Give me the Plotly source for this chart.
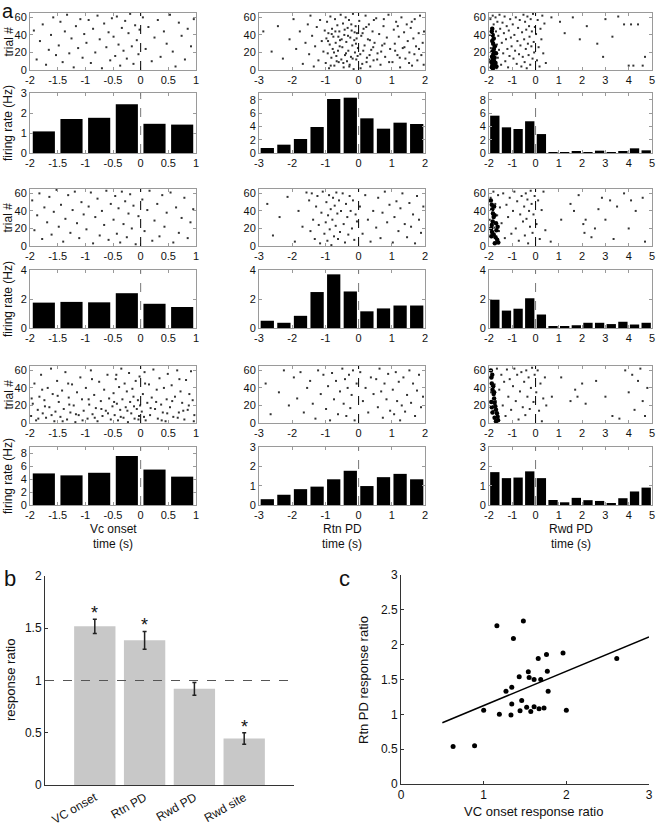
import plotly.graph_objects as go

W, H = 658, 828
FONT = "Liberation Sans, Arial, sans-serif"

# ---------------- panel a : histogram data ----------------
T_VC = [-1.75, -1.25, -0.75, -0.25, 0.25, 0.75]
T_RTN = [-2.75, -2.25, -1.75, -1.25, -0.75, -0.25, 0.25, 0.75, 1.25, 1.75]
T_RWD = [-1.75, -1.25, -0.75, -0.25, 0.25, 0.75, 1.25, 1.75, 2.25, 2.75, 3.25, 3.75, 4.25, 4.75]

RATE_VC_1 = [1.08, 1.70, 1.76, 2.44, 1.46, 1.42]
RATE_RTN_1 = [0.75, 1.25, 2.1, 3.9, 8.1, 8.3, 5.2, 3.65, 4.55, 4.35]
RATE_RWD_1 = [5.6, 3.85, 3.6, 4.76, 2.84, 0.1, 0.15, 0.2, 0.1, 0.35, 0.15, 0.25, 0.7, 0.4]

RATE_VC_2 = [1.75, 1.8, 1.77, 2.4, 1.67, 1.45]
RATE_RTN_2 = [0.5, 0.36, 0.84, 2.48, 3.7, 2.52, 1.15, 1.35, 1.55, 1.55]
RATE_RWD_2 = [1.95, 1.2, 1.33, 2.05, 0.93, 0.07, 0.07, 0.19, 0.36, 0.36, 0.27, 0.43, 0.24, 0.36]

RATE_VC_3 = [4.9, 4.6, 5.0, 7.6, 5.5, 4.4]
RATE_RTN_3 = [0.3, 0.53, 0.82, 0.95, 1.33, 1.77, 0.98, 1.44, 1.61, 1.33]
RATE_RWD_3 = [1.7, 1.39, 1.42, 1.74, 1.39, 0.26, 0.14, 0.37, 0.25, 0.21, 0.07, 0.35, 0.7, 0.9]

# ---------------- panel a : raster data (time in 1/100 s, trial #) ----------------
R_VC_1 = [(-193,45),(-188,12),(-182,33),(-177,52),(-171,6),(-166,23),(-162,40),(-158,60),(-153,17),
 (-148,28),(-145,55),(-141,9),(-137,44),(-133,63),(-129,19),(-125,36),(-121,3),(-117,50),(-113,25),(-109,58),(-105,14),(-102,41),
 (-98,31),(-94,57),(-90,8),(-86,47),(-82,20),(-78,62),(-74,35),(-70,2),(-66,53),(-62,26),(-58,43),(-55,11),(-52,59),
 (-49,38),(-46,16),(-43,61),(-40,29),(-37,5),(-34,48),(-31,22),(-28,56),(-25,13),(-22,42),(-19,64),(-16,27),(-13,7),(-10,51),(-7,34),(-4,18),(-2,46),
 (4,60),(9,24),(14,49),(20,10),(25,37),(31,57),(36,15),(42,44),(47,30),
 (53,63),(58,21),(63,4),(69,54),(74,39),(80,12),(85,47),(91,27),(96,58)]

R_RTN_1 = [(-287,44),(-262,21),(-243,50),(-228,13),(-208,35),
 (-196,58),(-188,24),(-177,44),(-168,7),(-160,31),(-153,52),
 (-149,18),(-145,62),(-140,39),(-135,4),(-131,27),(-126,49),(-121,11),(-116,57),(-111,33),(-106,21),(-102,45),
 (-99,8),(-97,36),(-95,55),(-93,19),(-91,42),(-89,2),(-87,29),(-85,61),(-82,14),(-80,47),(-78,24),(-76,38),(-73,5),(-71,58),(-69,31),(-67,16),(-64,51),(-62,22),(-60,9),(-58,44),(-56,34),(-54,63),(-52,12),
 (-49,26),(-47,53),(-45,3),(-43,40),(-41,17),(-39,60),(-37,32),(-35,10),(-33,48),(-31,22),(-29,57),(-27,6),(-25,37),(-23,15),(-21,45),(-19,28),(-17,64),(-15,1),(-13,34),(-11,20),(-9,50),(-7,12),(-5,42),(-2,25),
 (2,56),(5,18),(8,39),(11,7),(15,47),(18,28),(21,62),(25,14),(28,35),(31,52),(35,4),(38,23),(42,44),(45,11),(48,31),
 (53,59),(57,19),(62,41),(66,6),(71,28),(75,50),(80,15),(85,37),(90,63),(95,24),
 (102,9),(106,46),(109,30),(113,55),(117,17),(121,38),(125,3),(129,60),(133,25),(137,43),(141,13),(145,52),(148,33),
 (153,20),(157,48),(161,5),(165,36),(169,58),(173,27),(177,11),(181,42),(185,62),(189,17),(193,31),(197,44),
 (-84,5),(-74,20),(-66,10),(-57,27),(-46,8),(-38,19),(-28,4),(-18,13),(-8,30),(-3,16),(6,2),(14,22),(24,9),(33,17),(44,26),
 (-92,33),(-81,41),(-70,44),(-61,38),(-51,35),(-42,46),(-32,39),(-22,52),(-12,43),(-6,36),(12,42),(23,49),(34,34),(46,57),
 (56,12),(68,21),(78,30),(92,9),(110,22),(124,14),(138,26),(152,8),(168,18),(182,24),(196,6),(76,58),(118,50),(160,55)]

R_RWD_1 = [(-198,12),(-196,40),(-194,58),(-192,25),(-190,5),(-188,48),(-186,33),(-184,62),(-182,17),(-180,52),(-178,8),(-176,36),(-174,21),(-172,60),(-170,44),(-168,2),(-166,29),(-164,55),(-162,14),(-160,39),(-157,23),(-155,63),(-152,47),
 (-148,6),(-145,31),(-142,54),(-139,19),(-136,42),(-133,61),(-130,10),(-127,35),(-124,50),(-121,24),(-118,3),(-115,45),(-112,16),(-109,58),(-106,37),(-103,27),
 (-98,52),(-95,13),(-91,40),(-88,22),(-85,60),(-81,7),(-78,33),(-75,48),(-71,18),(-68,57),(-65,28),(-61,4),(-58,43),(-55,15),(-52,63),
 (-49,35),(-47,9),(-45,55),(-42,24),(-40,46),(-38,2),(-35,61),(-33,30),(-30,17),(-28,50),(-26,38),(-23,6),(-21,58),(-18,27),(-16,44),(-13,13),(-11,64),(-8,32),(-6,20),(-3,49),
 (2,41),(6,11),(9,57),(13,26),(17,4),(21,47),(25,35),(29,62),(33,19),(38,53),(44,8),
 (68,60),(105,55),(125,42),(160,60),(190,35),(220,50),(265,30),(290,15),(300,58),(330,38),(355,61),(380,52),(400,5),(410,52),(420,5),(440,52),(460,5),(470,15)]
B_RWD_1 = [(-188,3),(-185,6),(-190,9),(-183,12),(-187,15),(-181,18),(-185,21),(-179,24),(-175,27),(-182,30),(-186,33),
 (-180,36),(-184,40),(-188,44),(-186,47),(-183,2),(-178,5),(-172,8),(-168,4),(-176,14),(-170,19),(-178,10)]

R_VC_2 = [(-196,52),(-192,18),(-187,35),(-183,60),(-178,8),(-174,44),(-169,27),(-165,56),(-161,13),(-157,39),(-152,64),
 (-148,22),(-144,47),(-140,5),(-136,31),(-131,58),(-127,15),(-123,41),(-119,62),(-115,26),(-111,9),(-107,50),(-103,36),
 (-98,19),(-94,45),(-90,61),(-86,3),(-82,33),(-78,54),(-74,12),(-70,40),(-66,24),(-62,63),(-58,7),(-54,48),
 (-49,30),(-46,57),(-43,14),(-40,43),(-37,4),(-34,62),(-31,25),(-28,51),(-25,10),(-22,37),(-19,59),(-16,20),(-13,46),(-9,2),(-4,34),
 (3,53),(7,17),(12,41),(16,63),(21,6),(25,29),(30,48),(34,11),(39,58),(43,22),(47,38),
 (54,61),(59,4),(64,44),(69,15),(74,32),(79,55),(85,9),(90,27),(95,42)]

R_RTN_2 = [(-275,48),(-258,12),(-238,33),(-214,56),(-192,5),(-181,40),(-169,22),(-157,61),
 (-149,52),(-145,17),(-141,60),(-137,30),(-132,8),(-128,45),(-124,57),(-120,24),(-116,3),(-112,38),(-108,62),(-103,14),
 (-99,27),(-97,50),(-94,6),(-92,35),(-89,58),(-87,19),(-84,42),(-82,1),(-79,30),(-77,55),(-74,11),(-72,46),(-69,23),(-67,61),(-64,37),(-62,8),(-59,52),(-56,16),(-53,40),
 (-48,60),(-45,25),(-41,4),(-38,48),(-34,33),(-31,13),(-27,57),(-24,40),(-20,20),(-17,52),(-13,7),(-9,36),(-5,28),
 (4,45),(12,14),(20,58),(28,30),(36,5),(44,40),
 (53,21),(59,55),(66,9),(72,38),(79,62),(86,27),(93,47),
 (103,4),(108,33),(114,51),(120,17),(126,43),(132,60),(139,25),(146,10),
 (153,49),(158,22),(164,36),(170,3),(176,57),(182,30),(188,15),(195,45)]

R_RWD_2 = [(-197,30),(-193,55),(-189,10),(-185,42),(-181,62),(-177,21),(-173,48),(-169,4),(-165,35),(-161,58),(-157,17),(-153,44),
 (-146,26),(-139,60),(-132,9),(-125,47),(-118,33),(-111,55),(-104,14),
 (-97,40),(-91,62),(-85,20),(-79,51),(-72,6),(-66,36),(-60,57),(-54,28),
 (-49,45),(-46,12),(-42,60),(-39,31),(-35,53),(-32,3),(-28,40),(-24,22),(-21,63),(-17,48),(-13,15),(-9,36),(-4,57),
 (4,25),(11,52),(18,8),(26,41),(34,62),(42,18),
 (65,5),(110,30),(150,48),(165,40),(185,58),(205,25),(210,15),(215,30),(240,10),(255,20),(270,42),(285,55),(300,30),(320,52),(335,8),(350,45),(380,60),(400,20),(410,52),(430,40),(460,55),(470,5)]
B_RWD_2 = [(-192,52),(-188,47),(-186,42),(-183,37),(-180,33),(-184,28),(-188,24),(-191,20),(-187,16),(-180,13),(-172,10),
 (-165,7),(-160,4),(-175,3),(-168,18),(-163,22),(-170,26),(-178,45),(-176,35),(-190,11)]

R_VC_3 = [(-198,8),(-195,22),(-192,45),(-189,3),(-186,15),(-183,30),(-180,55),(-177,11),(-174,26),(-171,6),(-168,40),(-165,18),(-162,62),(-159,33),(-156,2),(-154,13),(-151,48),
 (-148,24),(-145,7),(-142,37),(-139,16),(-136,58),(-133,4),(-130,29),(-127,12),(-124,44),(-121,20),(-118,1),(-115,35),(-112,9),(-109,52),(-106,27),(-103,14),
 (-99,40),(-96,5),(-93,21),(-90,60),(-87,10),(-84,32),(-81,17),(-78,2),(-75,47),(-72,25),(-69,8),(-66,38),(-63,14),(-60,55),(-57,28),(-54,4),(-51,19),
 (-49,34),(-47,9),(-45,50),(-43,22),(-41,3),(-39,41),(-37,15),(-35,62),(-33,27),(-31,6),(-29,45),(-27,18),(-25,36),(-23,1),(-21,57),(-19,24),(-17,11),(-15,39),(-13,30),(-11,5),(-9,48),(-7,16),(-5,26),(-3,8),(-1,20),(-2,53),
 (2,13),(4,33),(7,58),(9,3),(12,23),(15,44),(17,9),(20,29),(23,61),(26,16),(29,38),(31,5),(34,51),(37,21),(40,12),(42,40),(45,2),(47,27),(49,56),
 (53,18),(56,43),(59,7),(62,30),(66,60),(69,12),(72,36),(75,23),(79,4),(82,49),(85,15),(88,33),(91,59),(94,26),(97,9),
 (-197,28),(-185,5),(-173,19),(-161,9),(-150,31),(-141,2),(-129,21),(-117,10),(-105,3),(-94,27),(-83,6),(-71,16),(-59,11),(-48,24),
 (-36,7),(-24,14),(-12,19),(-4,4),(6,7),(18,17),(28,24),(38,3),(48,11),(57,25),(67,6),(77,14),(87,20),(96,2),(-178,38),(-131,45),(-88,50),(-44,55),(8,45),(70,50)]

R_RTN_3 = [(-280,45),(-265,10),(-240,35),(-225,60),(-210,20),
 (-195,52),(-185,28),(-175,58),(-165,12),(-155,40),
 (-146,48),(-138,22),(-130,5),(-122,60),(-114,33),(-106,55),
 (-98,16),(-92,42),(-86,3),(-80,57),(-74,27),(-68,48),(-62,10),(-56,36),
 (-49,62),(-45,22),(-41,50),(-37,8),(-33,40),(-29,55),(-25,17),(-21,32),(-17,60),(-12,3),(-6,45),
 (5,58),(13,25),(21,40),(29,12),(37,52),(45,33),
 (53,50),(58,18),(63,62),(68,36),(73,6),(78,45),(84,27),(89,56),(95,14),
 (103,38),(107,10),(112,58),(116,25),(121,47),(125,3),(130,20),(135,52),(140,13),(146,32),
 (153,60),(158,23),(164,45),(170,8),(176,37),(182,55),(188,18),(194,30)]

R_RWD_3 = [(-196,60),(-191,35),(-186,52),(-181,14),(-176,44),(-171,25),(-166,62),(-161,6),(-156,38),
 (-147,55),(-141,20),(-135,47),(-129,8),(-123,61),(-117,30),(-111,50),(-105,15),
 (-97,42),(-91,62),(-85,25),(-79,55),(-73,4),(-67,36),(-61,58),(-55,18),
 (-49,47),(-44,9),(-40,60),(-35,30),(-30,52),(-25,16),(-20,40),(-15,63),(-9,24),(-4,55),
 (3,35),(9,60),(15,14),(21,45),(27,2),(33,28),(40,52),(46,20),
 (70,30),(110,52),(150,25),(170,38),(180,30),(200,45),(215,22),(260,48),(300,30),(330,8),(360,5),(385,60),(400,35),(415,55),(425,15),(440,48),(450,62),(460,25),(470,8),(480,40)]
B_RWD_3 = [(-192,60),(-190,52),(-188,45),(-185,38),(-180,33),(-178,28),(-176,23),(-173,19),(-170,15),(-166,11),(-163,7),
 (-161,3),(-186,55),(-182,42),(-178,35),(-190,24),(-188,18),(-185,12),(-176,6),(-170,2)]

# axis ticks
TICKS_VC = [-2, -1.5, -1, -0.5, 0, 0.5, 1]
TICKS_RTN = [-3, -2, -1, 0, 1, 2]
TICKS_RWD = [-2, -1, 0, 1, 2, 3, 4, 5]
TICKS_TRIAL = [0, 20, 40, 60]
COL_NAMES = ["Vc onset", "Rtn PD", "Rwd PD"]

# ---------------- panel b ----------------
B_LABELS = ["VC onset", "Rtn PD", "Rwd PD", "Rwd site"]
B_MEAN = [1.52, 1.385, 0.92, 0.445]
B_HI = [1.585, 1.47, 0.98, 0.50]
B_LO = [1.45, 1.30, 0.86, 0.39]
B_SIG = [True, True, False, True]

# ---------------- panel c ----------------
C_X = [0.63, 0.89, 1.00, 1.16, 1.19, 1.27, 1.33, 1.34, 1.34, 1.36, 1.43, 1.44, 1.46, 1.48, 1.52,
       1.54, 1.55, 1.57, 1.61, 1.61, 1.66, 1.67, 1.69, 1.73, 1.76, 1.77, 1.78, 1.96, 2.00, 2.61]
C_Y = [0.54, 0.55, 1.06, 2.27, 1.00, 1.33, 0.99, 1.39, 1.15, 2.09, 1.54, 1.05, 1.20, 2.34, 1.10,
       1.61, 1.53, 1.04, 1.50, 1.11, 1.80, 1.08, 1.50, 1.09, 1.86, 1.62, 1.33, 1.88, 1.06, 1.80]
FIT_X = [0.5, 3.0]
FIT_Y = [0.88, 2.11]

# ================= build figure =================
fig = go.Figure()
axes = {}
shapes = []
ann = []
count = [0]


def fmt(v):
    return f"{v:g}"


def label(text, px, py, size=12, angle=0):
    ann.append(dict(text=text, x=px / W, y=1 - py / H, xref="paper", yref="paper", xanchor="center",
                    yanchor="middle", textangle=angle, showarrow=False,
                    font=dict(family=FONT, size=size, color="#111")))


def new_axes(px0, px1, py0, py1, xr, yr, xt, yt, boxed=True, xtext=None, tick_font=11, ticklen=3):
    count[0] += 1
    n = count[0]
    sfx = "" if n == 1 else str(n)
    lc = "#9a9a9a" if boxed else "#333333"
    common = dict(showgrid=False, zeroline=False, showline=True, linecolor=lc, linewidth=1,
                  mirror="ticks" if boxed else False, ticks="inside", ticklen=ticklen,
                  tickcolor=lc, automargin=False, fixedrange=True,
                  tickfont=dict(family=FONT, size=tick_font, color="#111"))
    axes["xaxis" + sfx] = dict(domain=[px0 / W, px1 / W], range=xr, anchor="y" + sfx,
                               tickmode="array", tickvals=xt,
                               ticktext=xtext if xtext else [fmt(v) for v in xt], **common)
    axes["yaxis" + sfx] = dict(domain=[1 - py1 / H, 1 - py0 / H], range=yr, anchor="x" + sfx,
                               tickmode="array", tickvals=yt, ticktext=[fmt(v) for v in yt], **common)
    return sfx


COLS = [(30, 196), (259, 425), (489, 652)]
ROWS = [((13, 70), (93, 153)), ((189, 246), (270, 328)), ((366, 423), (447, 505))]
XR = [[-2, 1], [-3, 2], [-2, 5]]
XT = [TICKS_VC, TICKS_RTN, TICKS_RWD]
TB = [T_VC, T_RTN, T_RWD]

RASTERS = [[R_VC_1, R_RTN_1, R_RWD_1], [R_VC_2, R_RTN_2, R_RWD_2], [R_VC_3, R_RTN_3, R_RWD_3]]
BIGDOTS = [B_RWD_1, B_RWD_2, B_RWD_3]
RATES = [[RATE_VC_1, RATE_RTN_1, RATE_RWD_1], [RATE_VC_2, RATE_RTN_2, RATE_RWD_2],
         [RATE_VC_3, RATE_RTN_3, RATE_RWD_3]]
YR = [[[0, 3], [0, 9], [0, 9]], [[0, 4], [0, 4], [0, 4]], [[0, 9], [0, 3], [0, 3]]]
YT = {3: [0, 1, 2, 3], 4: [0, 2, 4], 9: [0, 2, 4, 6, 8]}

for r in range(3):
    (ry0, ry1), (hy0, hy1) = ROWS[r]
    for c in range(3):
        x0, x1 = COLS[c]
        # raster
        s = new_axes(x0, x1, ry0, ry1, XR[c], [0, 65], XT[c], TICKS_TRIAL)
        pts = RASTERS[r][c]
        fig.add_trace(go.Scatter(x=[p[0] / 100 for p in pts], y=[p[1] for p in pts], mode="markers",
                                 marker=dict(symbol="square", size=2, color="#333", line=dict(width=0)),
                                 xaxis="x" + s, yaxis="y" + s, showlegend=False, hoverinfo="skip"))
        if c == 2:
            bd = BIGDOTS[r]
            fig.add_trace(go.Scatter(x=[p[0] / 100 for p in bd], y=[p[1] for p in bd], mode="markers",
                                     marker=dict(symbol="circle", size=4.5, color="#000"),
                                     xaxis="x" + s, yaxis="y" + s, showlegend=False, hoverinfo="skip"))
        shapes.append(dict(type="line", xref="x" + s, yref="y" + s, x0=0, x1=0, y0=0, y1=65,
                           line=dict(color="#000", width=1, dash="dash")))
        # histogram
        yr = YR[r][c]
        s = new_axes(x0, x1, hy0, hy1, XR[c], yr, XT[c], YT[yr[1]])
        fig.add_trace(go.Bar(x=TB[c], y=RATES[r][c], width=0.4, marker=dict(color="#000", line=dict(width=0)),
                             xaxis="x" + s, yaxis="y" + s, showlegend=False, hoverinfo="skip"))
        shapes.append(dict(type="line", xref="x" + s, yref="y" + s, x0=0, x1=0, y0=yr[0], y1=yr[1],
                           line=dict(color="#777", width=1, dash="dash")))
    # row labels
    label("trial #", 8, (ry0 + ry1) / 2, 12, -90)
    label("firing rate (Hz)", 8, (hy0 + hy1) / 2, 12, -90)

for c in range(3):
    cx = (COLS[c][0] + COLS[c][1]) / 2
    label(COL_NAMES[c], cx, 529, 12)
    label("time (s)", cx, 544, 12)

# ---------------- panel b ----------------
sb = new_axes(45, 294, 576, 785, [0, 5], [0, 2], [1, 2, 3, 4], [0, 0.5, 1, 1.5, 2], boxed=False,
              xtext=B_LABELS, tick_font=12, ticklen=3)
axes["xaxis" + sb]["tickangle"] = -30
axes["xaxis" + sb]["ticks"] = ""
bx = [1, 2, 3, 4]
fig.add_trace(go.Bar(x=bx, y=B_MEAN, width=0.83, marker=dict(color="#c8c8c8", line=dict(width=0)),
                     error_y=dict(type="data", symmetric=False,
                                  array=[h - m for h, m in zip(B_HI, B_MEAN)],
                                  arrayminus=[m - l for m, l in zip(B_MEAN, B_LO)],
                                  color="#222", thickness=1.5, width=2),
                     xaxis="x" + sb, yaxis="y" + sb, showlegend=False, hoverinfo="skip"))
shapes.append(dict(type="line", xref="x" + sb + " domain", yref="y" + sb, x0=0, x1=1, y0=1, y1=1,
                   line=dict(color="#555", width=1, dash="dash")))
for xi, hi, sig in zip(bx, B_HI, B_SIG):
    if sig:
        ann.append(dict(text="*", x=xi, y=hi, xref="x" + sb, yref="y" + sb, xanchor="center", yanchor="bottom",
                        yshift=-6, showarrow=False, font=dict(family=FONT, size=18, color="#111")))
label("response ratio", 10, 680, 13, -90)

# ---------------- panel c ----------------
sc = new_axes(401, 649, 575, 784, [0, 3], [0, 3], [0, 1, 2, 3], [0, 0.5, 1, 1.5, 2, 2.5, 3], boxed=False,
              tick_font=12)
fig.add_trace(go.Scatter(x=FIT_X, y=FIT_Y, mode="lines", line=dict(color="#000", width=1.5),
                         xaxis="x" + sc, yaxis="y" + sc, showlegend=False, hoverinfo="skip"))
fig.add_trace(go.Scatter(x=C_X, y=C_Y, mode="markers", marker=dict(color="#000", size=5),
                         xaxis="x" + sc, yaxis="y" + sc, showlegend=False, hoverinfo="skip"))
label("Rtn PD response ratio", 363, 680, 13, -90)
label("VC onset response ratio", 533, 811, 13)

# panel letters
label("a", 8, 11, 20)
label("b", 10, 578, 22)
label("c", 344, 578, 22)

fig.update_layout(template="none", width=W, height=H, autosize=False, margin=dict(l=0, r=0, t=0, b=0, pad=0),
                  paper_bgcolor="white", plot_bgcolor="white", shapes=shapes, annotations=ann,
                  font=dict(family=FONT, color="#111"), barmode="overlay", **axes)
fig.write_html("out.html", config={"displayModeBar": False},
               post_script="document.body.style.margin='0px';document.body.style.padding='0px';document.body.style.overflow='hidden';")
